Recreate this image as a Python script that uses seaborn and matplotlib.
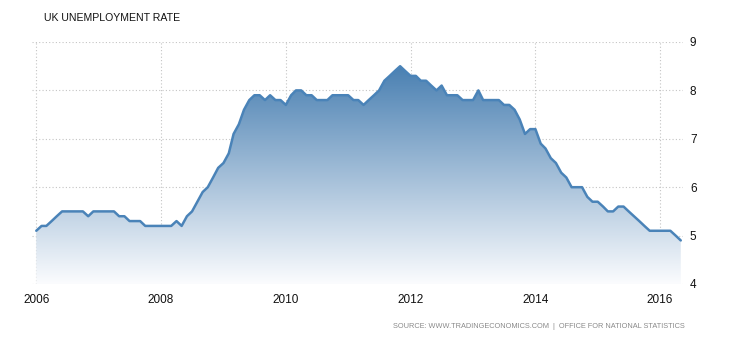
import numpy as np
import pandas as pd
import matplotlib
matplotlib.use("Agg")
import matplotlib.pyplot as plt
import matplotlib.dates as mdates
from matplotlib.colors import LinearSegmentedColormap
import seaborn as sns

# ---- data (monthly UK unemployment rate, %) ----
start_month = "2006-01-01"
rate_2006 = [5.1, 5.2, 5.2, 5.3, 5.4, 5.5, 5.5, 5.5, 5.5, 5.5, 5.4, 5.5]
rate_2007 = [5.5, 5.5, 5.5, 5.5, 5.4, 5.4, 5.3, 5.3, 5.3, 5.2, 5.2, 5.2]
rate_2008 = [5.2, 5.2, 5.2, 5.3, 5.2, 5.4, 5.5, 5.7, 5.9, 6.0, 6.2, 6.4]
rate_2009 = [6.5, 6.7, 7.1, 7.3, 7.6, 7.8, 7.9, 7.9, 7.8, 7.9, 7.8, 7.8]
rate_2010 = [7.7, 7.9, 8.0, 8.0, 7.9, 7.9, 7.8, 7.8, 7.8, 7.9, 7.9, 7.9]
rate_2011 = [7.9, 7.8, 7.8, 7.7, 7.8, 7.9, 8.0, 8.2, 8.3, 8.4, 8.5, 8.4]
rate_2012 = [8.3, 8.3, 8.2, 8.2, 8.1, 8.0, 8.1, 7.9, 7.9, 7.9, 7.8, 7.8]
rate_2013 = [7.8, 8.0, 7.8, 7.8, 7.8, 7.8, 7.7, 7.7, 7.6, 7.4, 7.1, 7.2]
rate_2014 = [7.2, 6.9, 6.8, 6.6, 6.5, 6.3, 6.2, 6.0, 6.0, 6.0, 5.8, 5.7]
rate_2015 = [5.7, 5.6, 5.5, 5.5, 5.6, 5.6, 5.5, 5.4, 5.3, 5.2, 5.1, 5.1]
rate_2016 = [5.1, 5.1, 5.1, 5.0, 4.9]
y_ticks = [4, 5, 6, 7, 8, 9]
title_text = "UK UNEMPLOYMENT RATE"
source_text = "SOURCE: WWW.TRADINGECONOMICS.COM  |  OFFICE FOR NATIONAL STATISTICS"

rates = (rate_2006 + rate_2007 + rate_2008 + rate_2009 + rate_2010 + rate_2011
         + rate_2012 + rate_2013 + rate_2014 + rate_2015 + rate_2016)
dates = pd.date_range(start_month, periods=len(rates), freq="MS")
df = pd.DataFrame({"date": dates, "rate": rates})

sns.set_theme(style="white")
plt.rcParams["font.family"] = ["Liberation Sans", "DejaVu Sans"]

W, H = 730, 340
fig = plt.figure(figsize=(W / 100, H / 100), dpi=100)
ax = fig.add_axes([32 / W, 1 - 284 / H, (683 - 32) / W, (284 - 42) / H])

line_col = "#4a83b8"
sns.lineplot(data=df, x="date", y="rate", ax=ax, color=line_col, linewidth=1.8,
             solid_joinstyle="round", solid_capstyle="round", zorder=4)

ymin, ymax = y_ticks[0], y_ticks[-1]
x0 = mdates.date2num(pd.Timestamp("2005-12-07"))
x1 = mdates.date2num(pd.Timestamp("2016-05-14"))
ax.set_xlim(x0, x1)
ax.set_ylim(ymin, ymax)

# gradient fill under the line
poly = ax.fill_between(df["date"], df["rate"], ymin, color="none", linewidth=0)
top = max(rates)
cmap = LinearSegmentedColormap.from_list("g", ["#fbfcfe", "#4a80b2"])
grad = np.linspace(0, 1, 256).reshape(-1, 1)
im = ax.imshow(grad, cmap=cmap, aspect="auto", origin="lower",
               extent=[x0, x1, ymin, top], zorder=2)
im.set_clip_path(poly.get_paths()[0], transform=ax.transData)

# axes styling
for s in ax.spines.values():
    s.set_visible(False)
ax.yaxis.tick_right()
ax.set_yticks(y_ticks)
ax.xaxis.set_major_locator(mdates.YearLocator(2))
ax.xaxis.set_major_formatter(mdates.DateFormatter("%Y"))
ax.grid(True, color="#c4c4c4", linestyle=(0, (1, 2)), linewidth=0.8, zorder=1)
ax.set_axisbelow(True)
ax.tick_params(axis="both", length=0, labelsize=8.5, colors="#111111")
ax.tick_params(axis="y", pad=5)
ax.tick_params(axis="x", pad=7)
ax.set_xlabel("")
ax.set_ylabel("")

fig.text(44 / W, 1 - 18 / H, title_text, fontsize=7.6, color="#111111",
         ha="left", va="center")
fig.text(685 / W, 1 - 326 / H, source_text, fontsize=5.3, color="#8a8a8a",
         ha="right", va="center")

fig.savefig("out.png", dpi=100, facecolor="white")
